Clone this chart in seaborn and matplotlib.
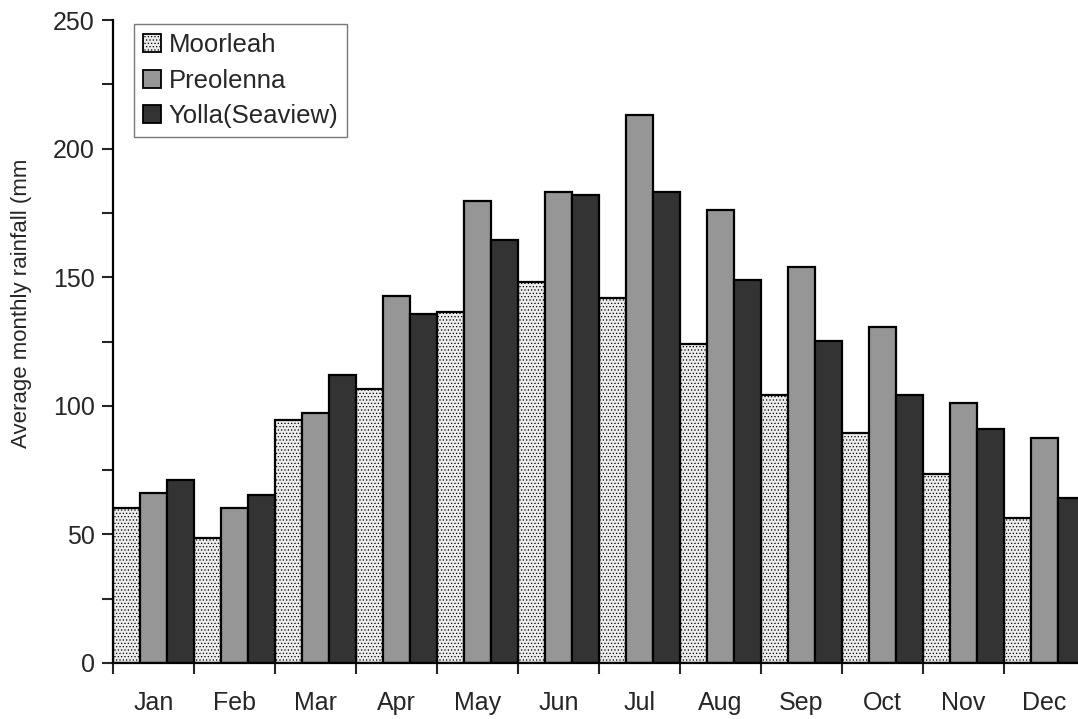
import numpy as np
import pandas as pd
import matplotlib
matplotlib.use("Agg")
import matplotlib.pyplot as plt
from matplotlib.patches import Patch
from matplotlib.ticker import MultipleLocator, FixedLocator, NullFormatter
import seaborn as sns

months = ["Jan", "Feb", "Mar", "Apr", "May", "Jun",
          "Jul", "Aug", "Sep", "Oct", "Nov", "Dec"]
stations = ["Moorleah", "Preolenna", "Yolla(Seaview)"]
moorleah = [60.3, 48.6, 94.5, 106.4, 136.6, 148.3, 141.8, 123.9, 104.3, 89.5, 73.5, 56.4]
preolenna = [66.0, 60.2, 97.3, 142.7, 179.7, 183.1, 213.2, 176.3, 153.8, 130.8, 101.2, 87.5]
yolla = [71.0, 65.5, 112.0, 135.7, 164.3, 181.8, 183.3, 149.0, 125.3, 104.2, 91.0, 64.2]

df = pd.DataFrame({
    "month": months * 3,
    "station": np.repeat(stations, len(months)),
    "rain": moorleah + preolenna + yolla,
})

colors = {"Moorleah": "#ececec", "Preolenna": "#969696", "Yolla(Seaview)": "#333333"}
FS = 18

sns.set_theme(style="ticks")
plt.rcParams["font.family"] = ["Liberation Sans", "DejaVu Sans"]
plt.rcParams["hatch.color"] = "#d6d6d6"
plt.rcParams["hatch.linewidth"] = 0.5

fig = plt.figure(figsize=(10.78, 7.19), dpi=100)
ax = fig.add_axes([113 / 1078, 56 / 719, 972 / 1078, 643 / 719])

sns.barplot(data=df, x="month", y="rain", hue="station", order=months,
            hue_order=stations, palette=colors, width=1.0, gap=0,
            edgecolor="black", linewidth=1.6, saturation=1, ax=ax,
            legend=False)

# fine dotted fill for the Moorleah bars
n = len(months)
for bar in ax.patches[:n]:
    bar.set_hatch(".....")

ax.set_xlim(-0.5, n - 0.5)
ax.set_ylim(0, 250)
ax.yaxis.set_major_locator(MultipleLocator(50))
ax.yaxis.set_minor_locator(MultipleLocator(25))
ax.yaxis.set_minor_formatter(NullFormatter())

# month labels centred, tick marks at group boundaries
ax.xaxis.set_major_locator(FixedLocator(np.arange(n)))
ax.set_xticklabels(months)
ax.xaxis.set_minor_locator(FixedLocator(np.arange(n + 1) - 0.5))
ax.tick_params(axis="x", which="major", length=0, pad=20, labelsize=FS)
ax.tick_params(axis="x", which="minor", length=8, width=1.5, direction="out")
ax.tick_params(axis="y", which="both", length=8, width=1.5, direction="out",
               labelsize=FS, pad=5)

for s in ["top", "right"]:
    ax.spines[s].set_visible(False)
for s in ["left", "bottom"]:
    ax.spines[s].set_linewidth(1.6)
    ax.spines[s].set_color("black")

ax.set_xlabel("")
ax.set_ylabel("")
fig.text(22 / 1078, 1 - 303 / 719, "Average monthly rainfall (mm", rotation=90,
         ha="center", va="center", fontsize=16)

handles = [Patch(facecolor=colors[s], edgecolor="black", linewidth=1.3,
                 hatch="....." if s == "Moorleah" else None) for s in stations]
leg = ax.legend(handles, stations, loc="upper left",
                bbox_to_anchor=(21 / 972, 639 / 643), fontsize=18.5,
                frameon=True, fancybox=False, borderpad=0.35,
                handlelength=0.7, handleheight=0.7, handletextpad=0.3,
                labelspacing=0.45, borderaxespad=0)
leg.get_frame().set_edgecolor("#555555")
leg.get_frame().set_linewidth(1.0)
leg._legend_box.sep = 0

fig.savefig("out.png", dpi=100, facecolor="white")
